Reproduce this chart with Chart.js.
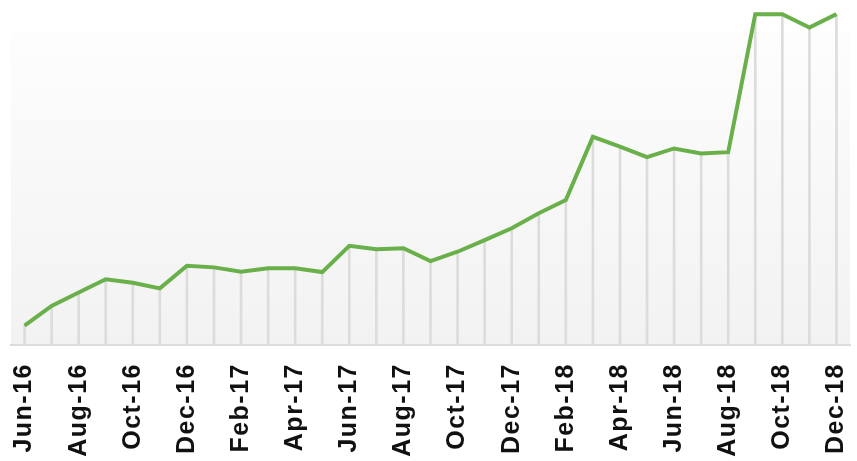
<!DOCTYPE html>
<html>
<head>
<meta charset="utf-8">
<script src="https://cdn.jsdelivr.net/npm/chart.js@4/dist/chart.umd.min.js"></script>
<style>
  html, body { margin: 0; padding: 0; background: #ffffff; }
  #wrap { width: 857px; height: 461px; position: relative; }
</style>
</head>
<body>
<div id="wrap"><canvas id="chart"></canvas></div>
<script>
// Monthly index, Jun 2016 – Dec 2018
const months = [
  'Jun-16','Jul-16','Aug-16','Sep-16','Oct-16','Nov-16','Dec-16',
  'Jan-17','Feb-17','Mar-17','Apr-17','May-17','Jun-17','Jul-17','Aug-17','Sep-17','Oct-17','Nov-17','Dec-17',
  'Jan-18','Feb-18','Mar-18','Apr-18','May-18','Jun-18','Jul-18','Aug-18','Sep-18','Oct-18','Nov-18','Dec-18'
];
const values = [
  6.2, 12.5, 16.8, 21.0, 19.9, 18.1, 25.3,
  24.8, 23.4, 24.5, 24.5, 23.3, 31.7, 30.6, 30.9, 26.8, 29.8, 33.5, 37.3,
  42.1, 46.3, 66.5, 63.4, 60.0, 62.8, 61.2, 61.6, 105.7, 105.7, 101.4, 105.7
];
// Only every second month gets a label on the axis
const labelStep = 2;

const plotBackground = {
  id: 'plotBackground',
  beforeDraw(chart) {
    const { ctx, chartArea: a } = chart;
    const g = ctx.createLinearGradient(0, a.top, 0, a.bottom);
    g.addColorStop(0, '#fdfdfd');
    g.addColorStop(1, '#f2f2f2');
    ctx.save();
    ctx.fillStyle = g;
    ctx.fillRect(a.left, a.top, a.right - a.left, a.bottom - a.top);
    ctx.restore();
  }
};

// Slightly spaced-out axis lettering
const labelSpacing = {
  id: 'labelSpacing',
  beforeDraw(chart) { chart.ctx.letterSpacing = '1.5px'; }
};

new Chart(document.getElementById('chart'), {
  type: 'bar',
  data: {
    labels: months,
    datasets: [
      {
        type: 'line',
        data: values,
        borderColor: '#6ab04a',
        borderWidth: 4,
        tension: 0,
        pointRadius: 0,
        pointHoverRadius: 0,
        fill: false,
        clip: false,
        order: 1
      },
      {
        type: 'bar',
        data: values,
        backgroundColor: '#dcdcdc',
        barThickness: 2,
        clip: false,
        order: 2
      }
    ]
  },
  options: {
    responsive: true,
    maintainAspectRatio: false,
    animation: false,
    events: [],
    layout: { padding: { top: 32, left: 11, right: 7, bottom: 0 } },
    plugins: { legend: { display: false }, tooltip: { enabled: false } },
    scales: {
      x: {
        offset: true,
        grid: { display: false },
        border: { display: true, color: '#dcdcdc', width: 2 },
        afterFit(scale) {
          scale.height = 116;
          scale.paddingLeft = 0;
          scale.paddingRight = 0;
        },
        ticks: {
          autoSkip: false,
          minRotation: 90,
          maxRotation: 90,
          padding: 10,
          color: '#111111',
          font: { family: '"Liberation Sans", Arial, sans-serif', size: 25, weight: 'bold' },
          callback(v, i) { return i % labelStep === 0 ? months[i] : ''; }
        }
      },
      y: {
        display: false,
        min: 0,
        max: 100
      }
    }
  },
  plugins: [plotBackground, labelSpacing]
});
</script>
</body>
</html>
